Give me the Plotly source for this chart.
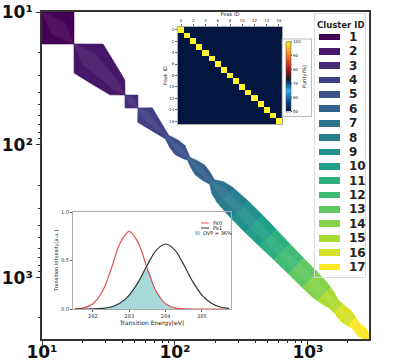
import numpy as np
import plotly.graph_objects as go
import plotly.colors as pc

# ---------------- data ----------------
cluster_ids = list(range(1, 18))
# boundaries of each cluster along the diagonal (same units as both axes)
cluster_bounds = [10, 17.4, 42.1, 52.7, 87.0, 127, 190, 242, 308, 393, 500,
                  638, 813, 1036, 1320, 1682, 2143, 2878]
# positions along the diagonal and half-width of the ribbon (decades)
ribbon_pos = [10, 13.2, 17.4, 22.4, 28.2, 36.9, 42.1, 47.1, 52.7, 59.5, 64.9,
              74.5, 87.0, 98.3, 109, 121, 127, 139, 154, 171, 190, 210, 238,
              283, 354, 436, 565, 771, 1000, 1231, 1413, 1567, 1740, 1931,
              2143, 2334, 2545, 2728, 2878]
ribbon_halfwidth = [0, 0.120, 0, 0.109, 0.085, 0.056, 0, 0.049, 0, 0.055,
                    0.045, 0.030, 0.013, 0.030, 0.036, 0.020, 0.010, 0.025,
                    0.036, 0.030, 0.017, 0.045, 0.058, 0.064, 0.066, 0.065,
                    0.062, 0.058, 0.058, 0.055, 0.045, 0.032, 0.034, 0.040,
                    0.030, 0.022, 0.030, 0.020, 0.015]
axis_tick_values = [10, 100, 1000]
axis_tick_labels = ['10¹', '10²', '10³']

# inset heatmap (peak overlap matrix)
peak_ids = list(range(17))
self_overlap = 100
cross_overlap = 50

# inset spectrum
energy = [281.5, 281.75, 282.0, 282.25, 282.5, 282.75, 283.0, 283.25, 283.5,
          283.75, 284.0, 284.25, 284.5, 284.75, 285.0, 285.25, 285.5, 285.75]
pk0 = [0.0, 0.012, 0.055, 0.175, 0.41, 0.68, 0.80, 0.68, 0.41, 0.175, 0.055,
       0.012, 0.002, 0.0, 0.0, 0.0, 0.0, 0.0]
pk1 = [0.0, 0.0, 0.001, 0.006, 0.021, 0.061, 0.144, 0.28, 0.456, 0.61, 0.67,
       0.61, 0.456, 0.28, 0.144, 0.061, 0.021, 0.006]
overlap_label = "OVP = 36%"

# ---------------- figure ----------------
W, H = 396, 363
def dx(a, b):
    return [a / W, b / W]
def dy(top, bottom):
    return [1 - bottom / H, 1 - top / H]

colors = pc.sample_colorscale('Viridis', [i / 16 for i in range(17)])

fig = go.Figure()

lt = np.log10(ribbon_pos)
hw = np.array(ribbon_halfwidth)

def blend(c, f):
    r, g, b = pc.unlabel_rgb(c) if c.startswith('rgb') else pc.hex_to_rgb(c)
    return 'rgb(%d,%d,%d)' % (r + (255 - r) * f, g + (255 - g) * f, b + (255 - b) * f)

for k, cid in enumerate(cluster_ids):
    a, b = np.log10(cluster_bounds[k]), np.log10(cluster_bounds[k + 1])
    inner = (lt > a + 1e-9) & (lt < b - 1e-9)
    ts = np.concatenate([[a], lt[inner], [b]])
    ds = np.interp(ts, lt, hw)
    for scale, col in ((1.0, colors[k]), (0.4, blend(colors[k], 0.07))):
        d = ds * scale
        ux = np.concatenate([ts + d, (ts - d)[::-1]])
        uy = np.concatenate([ts - d, (ts + d)[::-1]])
        fig.add_trace(go.Scatter(x=10 ** ux, y=10 ** uy, mode='lines',
                                 fill='toself', fillcolor=col,
                                 line=dict(color=col, width=0.6),
                                 xaxis='x', yaxis='y', hoverinfo='skip',
                                 showlegend=False))

# heatmap inset
z = [[self_overlap if i == j else cross_overlap for j in peak_ids] for i in peak_ids]
cscale = [[0.0, '#03163f'], [0.12, '#0b3f86'], [0.29, '#2fb2ea'],
          [0.37, '#1462a0'], [0.45, '#141a2c'], [0.55, '#7a1818'],
          [0.64, '#d42222'], [0.8, '#f5821f'], [1.0, '#fff530']]
fig.add_trace(go.Heatmap(
    z=z, x=peak_ids, y=peak_ids, zmin=50, zmax=100, colorscale=cscale,
    xaxis='x2', yaxis='y2', hoverinfo='skip',
    colorbar=dict(x=283 / W, xanchor='left', y=1 - 76.5 / H, yanchor='middle',
                  len=76, lenmode='pixels', thickness=5, thicknessmode='pixels',
                  tickvals=[50, 60, 70, 80, 90, 100], tickfont=dict(size=4),
                  ticks='outside', ticklen=1.5, outlinewidth=0.5,
                  bgcolor='white', bordercolor='#bbbbbb', borderwidth=1,
                  xpad=3, ypad=3,
                  title=dict(text='Purity(%)', side='right', font=dict(size=5)))))

# spectrum inset
ov = np.minimum(pk0, pk1)
fig.add_trace(go.Scatter(x=energy, y=ov, mode='lines', fill='tozeroy',
                         fillcolor='rgb(168,218,220)', line=dict(width=0, shape='spline'),
                         xaxis='x3', yaxis='y3', hoverinfo='skip', showlegend=False))
fig.add_trace(go.Scatter(x=energy, y=pk0, mode='lines',
                         line=dict(color='#e2504f', width=1.2, shape='spline'),
                         xaxis='x3', yaxis='y3', hoverinfo='skip', showlegend=False))
fig.add_trace(go.Scatter(x=energy, y=pk1, mode='lines',
                         line=dict(color='#333333', width=1.2, shape='spline'),
                         xaxis='x3', yaxis='y3', hoverinfo='skip', showlegend=False))

# cluster legend as bars
fig.add_trace(go.Bar(orientation='h', y=cluster_ids, x=[21] * len(cluster_ids),
                     base=4, width=0.47, marker=dict(color=colors, line=dict(width=0)),
                     xaxis='x4', yaxis='y4', hoverinfo='skip', showlegend=False))

axis_dark = '#333333'
big = dict(family='DejaVu Sans', size=17, color='#111111', weight='bold')
rng = [1, np.log10(cluster_bounds[-1])]
common_main = dict(type='log', showline=True, linecolor=axis_dark, linewidth=1.5,
                   mirror=True, ticks='outside', ticklen=4, tickwidth=1.2,
                   tickcolor=axis_dark, tickvals=axis_tick_values,
                   ticktext=axis_tick_labels,
                   tickfont=big, showgrid=False, zeroline=False,
                   ticklabeloverflow='allow',
                   minor=dict(ticks='outside', ticklen=2.5, tickcolor=axis_dark,
                              dtick='D1', showgrid=False),
                   automargin=False)
small = dict(family='DejaVu Sans', size=5, color='#333333')
inset_common = dict(showline=True, mirror=True, linecolor='#aaaaaa', linewidth=1,
                    ticks='outside', ticklen=2, tickwidth=0.6, tickcolor='#666666',
                    tickfont=small, showgrid=False, zeroline=False, automargin=False)

fig.update_layout(
    width=W, height=H, margin=dict(l=0, r=0, t=0, b=0),
    paper_bgcolor='white', plot_bgcolor='rgba(0,0,0,0)', template='none',
    showlegend=False, font=dict(family='DejaVu Sans', color='#222222'),
    xaxis=dict(domain=dx(42, 369), range=rng, anchor='y', ticklabelstandoff=-7,
               **common_main),
    yaxis=dict(domain=dy(12, 339), range=rng[::-1], anchor='x', **common_main),
    xaxis2=dict(domain=dx(178, 282), anchor='y2', side='top', range=[-0.5, 16.5],
                tickvals=list(range(0, 17, 2)),
                title=dict(text='Peak ID', font=dict(size=5), standoff=1),
                **{**inset_common, 'tickfont': dict(size=4, color='#333333')}),
    yaxis2=dict(domain=dy(27, 124), anchor='x2', range=[16.5, -0.5],
                tickvals=list(range(0, 17, 2)),
                title=dict(text='Peak ID', font=dict(size=5), standoff=1),
                **{**inset_common, 'tickfont': dict(size=4, color='#333333')}),
    xaxis3=dict(domain=dx(73, 231), anchor='y3', range=[281.45, 285.8],
                tickvals=[282, 283, 284, 285],
                title=dict(text='Transition Energy[eV]', font=dict(size=6), standoff=2),
                **inset_common),
    yaxis3=dict(domain=dy(212, 309), anchor='x3', range=[0, 1.0],
                tickvals=[0, 0.5, 1.0], ticktext=['0.0', '0.5', '1.0'],
                title=dict(text='Transition Intensity[a.u.]', font=dict(size=5), standoff=2),
                **inset_common),
    xaxis4=dict(domain=dx(315, 365), anchor='y4', range=[0, 50], showline=True,
                mirror=True, linecolor='#dddddd', showticklabels=False, ticks='',
                showgrid=False, zeroline=False, automargin=False),
    yaxis4=dict(domain=dy(14, 277), anchor='x4', range=[17.7, -0.6], showline=True,
                mirror=True, linecolor='#dddddd', showticklabels=False, ticks='',
                showgrid=False, zeroline=False, automargin=False),
    bargap=0,
)

ann = []
for cid in cluster_ids:
    ann.append(dict(xref='x4', yref='y4', x=32, y=cid, text=str(cid), showarrow=False,
                    xanchor='left', yanchor='middle',
                    font=dict(size=12, color='#222222', weight='bold')))
ann.append(dict(xref='x4', yref='y4', x=25.5, y=0.15, text='Cluster ID', showarrow=False,
                xanchor='center', yanchor='middle',
                font=dict(size=8.5, color='#222222', weight='bold')))
# inset spectrum legend
ann.append(dict(xref='paper', yref='paper', x=211 / W, y=1 - 223 / H, text='Pk0',
                showarrow=False, xanchor='left', yanchor='middle', font=dict(size=5)))
ann.append(dict(xref='paper', yref='paper', x=211 / W, y=1 - 228 / H, text='Pk1',
                showarrow=False, xanchor='left', yanchor='middle', font=dict(size=5)))
ann.append(dict(xref='paper', yref='paper', x=201 / W, y=1 - 233 / H, text=overlap_label,
                showarrow=False, xanchor='left', yanchor='middle', font=dict(size=5)))
fig.update_layout(annotations=ann)

shapes = [
    dict(type='line', xref='paper', yref='paper', x0=201 / W, x1=209 / W,
         y0=1 - 223 / H, y1=1 - 223 / H, line=dict(color='#e2504f', width=1)),
    dict(type='line', xref='paper', yref='paper', x0=201 / W, x1=209 / W,
         y0=1 - 228 / H, y1=1 - 228 / H, line=dict(color='#333333', width=1)),
    dict(type='rect', xref='paper', yref='paper', x0=195 / W, x1=200 / W,
         y0=1 - 235 / H, y1=1 - 231 / H, fillcolor='rgb(168,218,220)', line=dict(width=0)),
]
fig.update_layout(shapes=shapes)

fig.write_html('out.html', config={'displayModeBar': False},
               post_script="document.body.style.margin='0';document.body.style.overflow='hidden';")
